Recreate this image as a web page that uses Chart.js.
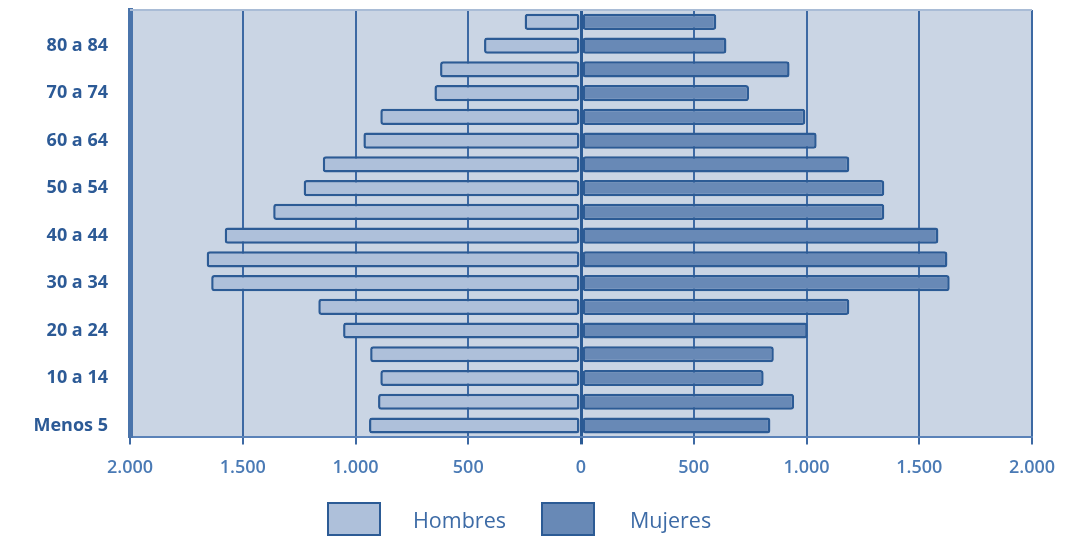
<!DOCTYPE html>
<html>
<head>
<meta charset="utf-8">
<script src="https://cdn.jsdelivr.net/npm/chart.js@4.4.1/dist/chart.umd.min.js"></script>
<style>
  html, body { margin: 0; padding: 0; background: #ffffff; }
  #wrap { position: relative; width: 1074px; height: 538px; font-family: "Open Sans", sans-serif; }
  #cv { position: absolute; left: 0; top: 0; width: 1074px; height: 504px; }
  .lbox { position: absolute; top: 502px; width: 50px; height: 30px; border: 2px solid #2c5b95; }
  .ltxt { position: absolute; top: 503px; height: 34px; line-height: 34px; font-size: 21.5px; color: #3d6ba6; }
</style>
</head>
<body>
<div id="wrap">
  <div id="cv"><canvas id="chart" width="1074" height="504"></canvas></div>
  <div class="lbox" id="lb1" style="left:327px;"></div>
  <div class="ltxt" id="lt1" style="left:413px;"></div>
  <div class="lbox" id="lb2" style="left:541px;"></div>
  <div class="ltxt" id="lt2" style="left:630px;"></div>
</div>
<script>
// Age groups, bottom (youngest) to top (oldest)
const categories = ['Menos 5','5 a 9','10 a 14','15 a 19','20 a 24','25 a 29','30 a 34','35 a 39','40 a 44','45 a 49','50 a 54','55 a 59','60 a 64','65 a 69','70 a 74','75 a 79','80 a 84','85 y más'];
const seriesNames = ['Hombres', 'Mujeres'];
const hombres = [940, 900, 890, 935, 1055, 1165, 1640, 1660, 1580, 1365, 1230, 1145, 965, 890, 650, 625, 430, 250];
const mujeres = [840, 945, 810, 855, 1005, 1190, 1635, 1625, 1585, 1345, 1345, 1190, 1045, 995, 745, 925, 645, 600];
const xTicks = [-2000, -1500, -1000, -500, 0, 500, 1000, 1500, 2000];

const colHombres = '#aec0da';
const colMujeres = '#6889b6';
const colBorder = '#2c5b95';

document.getElementById('lb1').style.background = colHombres;
document.getElementById('lb2').style.background = colMujeres;
document.getElementById('lt1').textContent = seriesNames[0];
document.getElementById('lt2').textContent = seriesNames[1];

function fmt(v) {
  const a = Math.abs(v);
  return a.toString().replace(/\B(?=(\d{3})+(?!\d))/g, '.');
}

const plotBg = {
  id: 'plotBg',
  beforeDraw(chart) {
    const a = chart.chartArea, ctx = chart.ctx;
    ctx.save();
    ctx.fillStyle = '#cad5e4';
    ctx.fillRect(a.left, a.top, a.right - a.left, a.bottom - a.top);
    ctx.restore();
  },
  afterDraw(chart) {
    const a = chart.chartArea, ctx = chart.ctx;
    ctx.save();
    ctx.strokeStyle = '#a9bcd6';
    ctx.lineWidth = 2;
    ctx.beginPath();
    ctx.moveTo(a.left, a.top);
    ctx.lineTo(a.right, a.top);
    ctx.stroke();
    ctx.restore();
  }
};

new Chart(document.getElementById('chart'), {
  type: 'bar',
  data: {
    labels: categories,
    datasets: [
      { label: seriesNames[0], data: hombres.map(v => -v), backgroundColor: colHombres, borderColor: colBorder, borderWidth: 2.5, borderRadius: 3, borderSkipped: false },
      { label: seriesNames[1], data: mujeres, backgroundColor: colMujeres, borderColor: colBorder, borderWidth: 2.5, borderRadius: 3, borderSkipped: false }
    ]
  },
  options: {
    indexAxis: 'y',
    responsive: false,
    animation: false,
    layout: { padding: { top: 10, right: 42, left: 0, bottom: 12 } },
    plugins: { legend: { display: false }, tooltip: { enabled: false } },
    datasets: { bar: { categoryPercentage: 1, barPercentage: 0.68 } },
    scales: {
      x: {
        stacked: true,
        min: -2000, max: 2000,
        afterBuildTicks(scale) { scale.ticks = xTicks.map(v => ({ value: v })); },
        ticks: { callback: v => fmt(v), color: '#4a7ab5', font: { family: 'Open Sans', size: 18, weight: '600' }, padding: 13, maxRotation: 0 },
        grid: {
          color: ctx => (ctx.tick && ctx.tick.value === 0) ? '#2b5a94' : '#3d69a3',
          lineWidth: ctx => (ctx.tick && ctx.tick.value === 0) ? 3 : 2,
          drawTicks: true, tickLength: 7
        },
        border: { display: true, color: '#5a82b8', width: 2 }
      },
      y: {
        stacked: true,
        reverse: true,
        afterFit(scale) { scale.width = 130; scale.paddingTop = 0; scale.paddingBottom = 0; },
        ticks: {
          autoSkip: false,
          callback: (v, i) => (i % 2 === 0 ? categories[i] : ''),
          color: '#2c5a96',
          font: { family: 'Open Sans', size: 18, weight: 'bold' },
          padding: 22
        },
        grid: { display: false, drawTicks: false },
        border: { display: true, color: '#4a74ab', width: 5 }
      }
    }
  },
  plugins: [plotBg]
});
</script>
</body>
</html>
